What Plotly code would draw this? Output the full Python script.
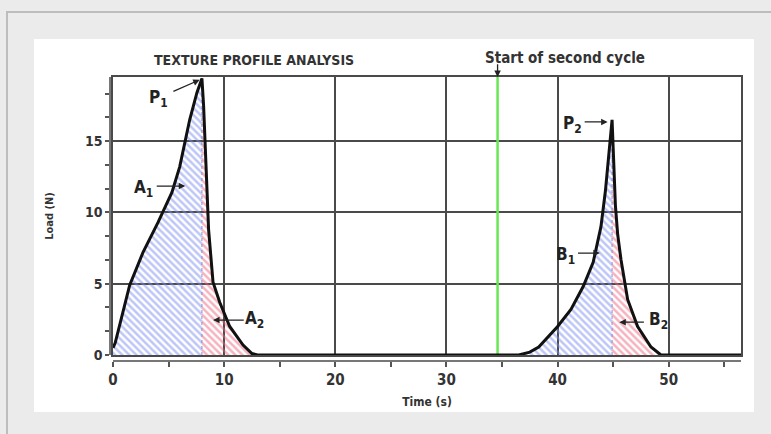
import plotly.graph_objects as go

# ---------------- data ----------------
# first cycle: compression (A1) and decompression (A2)
a1_time = [0.0, 0.2, 1.5, 2.7, 4.05, 5.3, 6.0, 6.9, 7.55, 8.0]
a1_load = [0.5, 0.85, 4.9, 7.2, 9.3, 11.4, 13.2, 16.5, 18.4, 19.4]
a2_time = [8.0, 8.15, 8.3, 8.4, 8.6, 9.0, 9.6, 10.5, 11.7, 12.5, 13.0]
a2_load = [19.4, 17.5, 14.5, 11.6, 8.8, 5.1, 3.7, 2.0, 0.7, 0.1, 0.0]
# resting between cycles
rest_time = [13.0, 36.5]
rest_load = [0.0, 0.0]
# second cycle: compression (B1) and decompression (B2)
b1_time = [36.5, 37.5, 38.3, 39.2, 40.0, 41.2, 42.3, 43.2, 43.9, 44.3, 44.6, 44.9]
b1_load = [0.0, 0.2, 0.56, 1.3, 2.0, 3.2, 4.8, 6.5, 9.0, 11.5, 14.0, 16.5]
b2_time = [44.9, 45.0, 45.2, 45.4, 45.7, 46.3, 47.2, 48.4, 49.3]
b2_load = [16.5, 14.5, 10.5, 8.5, 6.7, 3.9, 2.0, 0.56, 0.0]
tail_time = [49.3, 56.5]
tail_load = [0.0, 0.0]

second_cycle_start = 34.6
x_max = 56.5
y_max = 19.5

x_tick_vals = [0, 5, 10, 15, 20, 25, 30, 35, 40, 45, 50, 55]
x_tick_text = ["0", "", "10", "", "20", "", "30", "", "40", "", "50", ""]
y_tick_vals = [i * 5 / 3 for i in range(12)]
y_tick_text = ["0", "", "", "5", "", "", "10", "", "", "15", "", ""]

title_text = "TEXTURE PROFILE ANALYSIS"
cycle_text = "Start of second cycle"

# ---------------- figure ----------------
FONT = "DejaVu Sans Condensed, DejaVu Sans, sans-serif"
BLUE = "#7c8ef0"
RED = "#ee6680"
GRID = "#4a4a4a"

def f(size, color="#333333"):
    return dict(family=FONT, size=size, color=color, weight="bold")

fig = go.Figure()

def hatch(xs, ys, color, shape):
    fig.add_trace(go.Scatter(
        x=xs, y=ys, mode="lines", fill="tozeroy",
        line=dict(width=0, color=color),
        fillcolor="rgba(255,255,255,0)",
        fillpattern=dict(shape=shape, fgcolor=color, bgcolor="rgba(255,255,255,0)",
                         size=5, solidity=0.5),
        showlegend=False, hoverinfo="skip"))

hatch(a1_time, a1_load, BLUE, "\\")
hatch(a2_time, a2_load, RED, "\\")
hatch(b1_time, b1_load, BLUE, "\\")
hatch(b2_time, b2_load, RED, "\\")

# boundaries between hatched areas (thin dotted)
for xs, ys in [([a1_time[-1], a1_time[-1]], [0, a1_load[-1]]),
               ([b1_time[-1], b1_time[-1]], [0, b1_load[-1]])]:
    fig.add_trace(go.Scatter(x=xs, y=ys, mode="lines",
                             line=dict(color="#8a8fd0", width=1, dash="dot"),
                             showlegend=False, hoverinfo="skip"))

# green marker line for second cycle start
fig.add_trace(go.Scatter(x=[second_cycle_start, second_cycle_start], y=[0, y_max],
                         mode="lines", line=dict(color="#66e854", width=2.5),
                         showlegend=False, hoverinfo="skip"))

# the load curve
curve_t = a1_time + a2_time[1:] + rest_time[1:] + b1_time[1:] + b2_time[1:] + tail_time[1:]
curve_l = a1_load + a2_load[1:] + rest_load[1:] + b1_load[1:] + b2_load[1:] + tail_load[1:]
fig.add_trace(go.Scatter(x=curve_t, y=curve_l, mode="lines",
                         line=dict(color="#111111", width=3),
                         showlegend=False, hoverinfo="skip"))

# invisible trace to carry the outer tick axes
fig.add_trace(go.Scatter(x=[0], y=[0], xaxis="x2", yaxis="y2", mode="markers",
                         marker=dict(opacity=0), showlegend=False, hoverinfo="skip"))

L, R, T, B = 110, 30, 77, 73
W, H = 771, 434
pw = W - L - R
ph = H - T - B

def px(x):
    return (x - L) / pw

def py(y):
    return (H - B - y) / ph

x_dom = [px(113), 1.0]
y_dom = [py(355), 1.0]

fig.update_layout(
    width=W, height=H,
    margin=dict(l=L, r=R, t=T, b=B),
    paper_bgcolor="#ebebeb",
    plot_bgcolor="white",
    font=f(12),
    xaxis=dict(domain=x_dom, range=[0, x_max], showgrid=True, gridcolor=GRID, gridwidth=1.5,
               dtick=10, tick0=0, showticklabels=False, ticks="", zeroline=False,
               showline=True, linecolor=GRID, linewidth=1.5, mirror=True),
    yaxis=dict(domain=y_dom, range=[0, y_max], showgrid=True, gridcolor=GRID, gridwidth=1.5,
               dtick=5, tick0=0, showticklabels=False, ticks="", zeroline=False,
               showline=True, linecolor=GRID, linewidth=1.5, mirror=True),
    xaxis2=dict(overlaying="x", anchor="free", position=0, range=[0, x_max],
                tickmode="array", tickvals=x_tick_vals, ticktext=x_tick_text,
                ticks="outside", ticklen=5, tickwidth=1.5, tickcolor="#555555",
                showline=True, linecolor="#777777", linewidth=1.5, showgrid=False,
                zeroline=False, tickfont=f(15),
                title=dict(text="Time (s)", standoff=9, font=f(12))),
    yaxis2=dict(overlaying="y", anchor="free", position=0, range=[0, y_max],
                tickmode="array", tickvals=y_tick_vals, ticktext=y_tick_text,
                ticks="outside", ticklen=4, tickwidth=1.5, tickcolor="#555555",
                showline=True, linecolor="#777777", linewidth=1.5, showgrid=False,
                zeroline=False, tickfont=f(14),
                title=dict(text="Load (N)", standoff=28, font=f(11))),
    shapes=[
        dict(type="rect", xref="paper", yref="paper", layer="below",
             x0=px(7), x1=px(800), y0=py(12), y1=py(460),
             line=dict(color="#bdbdbd", width=2), fillcolor="#ebebeb"),
        dict(type="rect", xref="paper", yref="paper", layer="below",
             x0=px(34), x1=px(754), y0=py(39), y1=py(412),
             line=dict(width=0), fillcolor="white"),
    ],
)

labels = [
    ("P<sub>1</sub>", 4.05, 18.0),
    ("A<sub>1</sub>", 2.7, 11.7),
    ("A<sub>2</sub>", 12.7, 2.5),
    ("P<sub>2</sub>", 41.3, 16.2),
    ("B<sub>1</sub>", 40.7, 7.0),
    ("B<sub>2</sub>", 49.1, 2.45),
]
for text, x, y in labels:
    fig.add_annotation(x=x, y=y, xref="x", yref="y", text=text, showarrow=False,
                       xanchor="center", yanchor="middle", font=f(17, "#222222"))

arrows = [
    (5.3, 18.45, 7.8, 19.3),
    (3.8, 11.85, 6.5, 11.85),
    (11.9, 2.45, 9.0, 2.45),
    (42.3, 16.35, 44.5, 16.35),
    (41.7, 7.15, 43.8, 7.15),
    (47.9, 2.3, 45.55, 2.3),
    (second_cycle_start, 20.5, second_cycle_start, 19.5),
]
for ax_, ay_, x, y in arrows:
    fig.add_annotation(x=x, y=y, ax=ax_, ay=ay_, xref="x", yref="y", axref="x", ayref="y",
                       text="", showarrow=True, arrowhead=2, arrowsize=1, arrowwidth=1.3,
                       arrowcolor="#222222")

fig.add_annotation(x=px(254), y=py(60), xref="paper", yref="paper", text=title_text,
                   showarrow=False, xanchor="center", yanchor="middle", font=f(14))
fig.add_annotation(x=px(565), y=py(58), xref="paper", yref="paper", text=cycle_text,
                   showarrow=False, xanchor="center", yanchor="middle", font=f(15))

fig.write_html(
    "out.html",
    config={"displayModeBar": False},
    post_script="document.body.style.margin='0';document.body.style.overflow='hidden';"
                "document.body.style.background='#ebebeb';",
)
